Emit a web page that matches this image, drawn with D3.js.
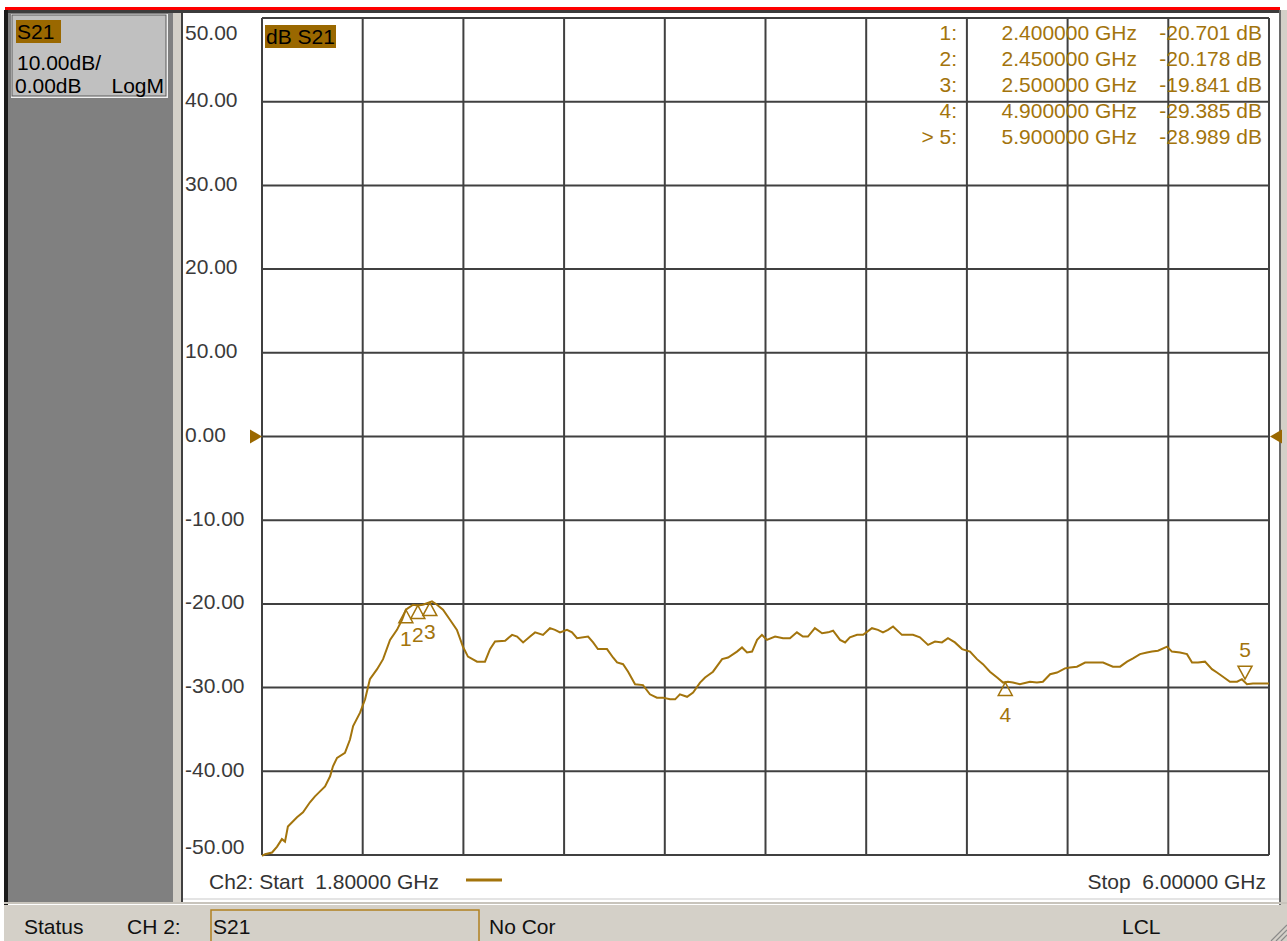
<!DOCTYPE html>
<html lang="en">
<head>
  <meta charset="UTF-8">
  <title>S21 LogM trace</title>
  <script src="https://d3js.org/d3.v7.min.js"></script>
  <style>
    body {
      margin: 0;
      background: #ffffff;
      font-family: "Liberation Sans", Arial, sans-serif;
    }
    svg text {
      font-size: 21px;
      white-space: pre;
    }
    .grid line {
      stroke: #404040;
      stroke-width: 2px;
    }
    .trace {
      fill: none;
      stroke: #a3740c;
      stroke-width: 2px;
    }
    .ylab {
      fill: #3a3a3a;
    }
    .mk {
      fill: #a3740c;
    }
    .status {
      fill: #111;
    }
  </style>
</head>
<body>
<svg width="1287" height="941"></svg>

<script>
// sweep (GHz) and S21 magnitude (dB)
const freqGHz = [
  1.800, 1.813, 1.842, 1.863, 1.883, 1.896, 1.908, 1.946, 1.971, 2.000,
  2.021, 2.042, 2.063, 2.084, 2.096, 2.113, 2.146, 2.167, 2.180, 2.209,
  2.230, 2.250, 2.280, 2.305, 2.334, 2.363, 2.384, 2.400, 2.430, 2.450,
  2.471, 2.500, 2.509, 2.530, 2.555, 2.584, 2.613, 2.638, 2.659, 2.697,
  2.730, 2.751, 2.772, 2.814, 2.843, 2.864, 2.889, 2.918, 2.939, 2.972,
  3.001, 3.022, 3.043, 3.072, 3.093, 3.114, 3.160, 3.181, 3.201, 3.239,
  3.264, 3.281, 3.306, 3.327, 3.356, 3.389, 3.418, 3.447, 3.472, 3.502,
  3.523, 3.543, 3.573, 3.598, 3.627, 3.648, 3.681, 3.719, 3.744, 3.781,
  3.802, 3.823, 3.844, 3.865, 3.885, 3.906, 3.940, 3.973, 4.002, 4.031,
  4.056, 4.077, 4.106, 4.136, 4.161, 4.182, 4.211, 4.232, 4.252, 4.282,
  4.307, 4.344, 4.369, 4.390, 4.411, 4.432, 4.469, 4.515, 4.544, 4.578,
  4.607, 4.636, 4.661, 4.690, 4.720, 4.753, 4.782, 4.807, 4.836, 4.866,
  4.891, 4.911, 4.932, 4.961, 5.003, 5.032, 5.057, 5.087, 5.116, 5.149,
  5.170, 5.199, 5.233, 5.266, 5.308, 5.349, 5.379, 5.408, 5.433, 5.462,
  5.491, 5.512, 5.537, 5.575, 5.595, 5.629, 5.658, 5.679, 5.704, 5.733,
  5.762, 5.783, 5.808, 5.837, 5.867, 5.887, 5.908, 5.933, 5.971, 6.000
];
const s21dB = [
  -50.1, -49.9, -49.7, -49.0, -48.1, -48.4, -46.6, -45.5, -44.9, -43.7,
  -43.0, -42.4, -41.8, -40.6, -39.4, -38.4, -37.8, -36.2, -34.6, -33.0,
  -31.4, -29.0, -27.8, -26.6, -24.3, -23.1, -21.9, -20.7, -20.1, -20.2,
  -20.1, -19.8, -19.7, -20.1, -20.7, -21.9, -23.1, -25.1, -26.3, -26.9,
  -26.9, -25.4, -24.5, -24.4, -23.7, -23.9, -24.6, -23.9, -23.4, -23.7,
  -22.9, -23.1, -23.4, -23.1, -23.4, -24.1, -23.9, -24.6, -25.4, -25.4,
  -26.4, -27.0, -27.2, -28.1, -29.6, -29.7, -30.8, -31.2, -31.2, -31.4,
  -31.4, -30.8, -31.1, -30.6, -29.4, -28.8, -28.1, -26.6, -26.4, -25.7,
  -25.2, -25.8, -25.7, -24.3, -23.7, -24.3, -23.9, -24.1, -24.1, -23.4,
  -23.9, -23.9, -22.9, -23.5, -23.4, -23.2, -24.3, -24.6, -24.0, -23.7,
  -23.7, -22.9, -23.1, -23.4, -23.1, -22.7, -23.7, -23.7, -24.0, -24.9,
  -24.5, -24.6, -24.1, -24.6, -25.4, -25.7, -26.6, -27.2, -28.1, -28.8,
  -29.4, -29.3, -29.4, -29.6, -29.3, -29.4, -29.3, -28.4, -28.2, -27.7,
  -27.6, -27.5, -27.0, -27.0, -27.0, -27.5, -27.5, -26.9, -26.5, -26.0,
  -25.8, -25.7, -25.6, -25.1, -25.7, -25.8, -26.0, -27.0, -27.0, -26.9,
  -27.8, -28.2, -28.7, -29.3, -29.3, -29.0, -29.6, -29.5, -29.5, -29.5
];

// marker table
const markerIds = ["1", "2", "3", "4", "5"];
const markerPrefix = ["1:", "2:", "3:", "4:", "> 5:"];
const markerFreqGHz = [2.4, 2.45, 2.5, 4.9, 5.9];
const markerDB = [-20.701, -20.178, -19.841, -29.385, -28.989];

const yTicks = [50, 40, 30, 20, 10, 0, -10, -20, -30, -40, -50];
const startGHz = 1.8, stopGHz = 6.0, xDivs = 10;

const gold = "#a3740c";
const svg = d3.select("svg");

// plain hyphen for negatives, like the analyzer screen
const loc = d3.formatLocale({ decimal: ".", thousands: ",", grouping: [3], currency: ["", ""], minus: "-" });
const f2 = loc.format(".2f"), f3 = loc.format(".3f"), f5 = loc.format(".5f"), f6 = loc.format(".6f");

// ---- instrument window chrome ----
svg.append("rect").attr("x", 0).attr("y", 0).attr("width", 1287).attr("height", 941).attr("fill", "#fff");
svg.append("rect").attr("x", 5).attr("y", 7).attr("width", 1275).attr("height", 3).attr("fill", "#ff0000");
svg.append("rect").attr("x", 4).attr("y", 10).attr("width", 1277).attr("height", 3).attr("fill", "#3c3c3c");
svg.append("rect").attr("x", 4).attr("y", 10).attr("width", 4).attr("height", 931).attr("fill", "#1a1a1a");
svg.append("rect").attr("x", 1279).attr("y", 10).attr("width", 2).attr("height", 895).attr("fill", "#6a6a6a");
svg.append("rect").attr("x", 1281).attr("y", 10).attr("width", 6).attr("height", 931).attr("fill", "#d4d0c8");

// left gray panel
svg.append("rect").attr("x", 8).attr("y", 13).attr("width", 165).attr("height", 890).attr("fill", "#808080");
svg.append("rect").attr("x", 173).attr("y", 13).attr("width", 8).attr("height", 890).attr("fill", "#d4d0c8");
svg.append("rect").attr("x", 181).attr("y", 13).attr("width", 2).attr("height", 890).attr("fill", "#404040");

// info box
svg.append("rect").attr("x", 11).attr("y", 14).attr("width", 157).attr("height", 84).attr("fill", "#f0f0f0");
svg.append("rect").attr("x", 12).attr("y", 15).attr("width", 154).attr("height", 81).attr("fill", "#c0c0c0")
  .attr("stroke", "#5a5a5a").attr("stroke-width", 1);
svg.append("rect").attr("x", 16).attr("y", 20).attr("width", 45).attr("height", 23).attr("fill", "#9a6800");
svg.append("text").attr("x", 17).attr("y", 39).attr("fill", "#000").text("S21");
svg.append("text").attr("x", 17).attr("y", 70).attr("fill", "#000").text("10.00dB/");
svg.append("text").attr("x", 15).attr("y", 93).attr("fill", "#000").text("0.00dB");
svg.append("text").attr("x", 164).attr("y", 93).attr("fill", "#000").attr("text-anchor", "end").text("LogM");

// ---- plot ----
const x = d3.scaleLinear().domain([startGHz, stopGHz]).range([262, 1269]);
const y = d3.scaleLinear().domain([-50, 50]).range([855, 18]);

const xGrid = d3.range(xDivs + 1).map(i => startGHz + i * (stopGHz - startGHz) / xDivs);

const grid = svg.append("g").attr("class", "grid");
grid.selectAll(".v").data(xGrid).enter().append("line")
  .attr("x1", d => x(d)).attr("x2", d => x(d))
  .attr("y1", y(50)).attr("y2", y(-50));
grid.selectAll(".h").data(yTicks).enter().append("line")
  .attr("x1", x(startGHz)).attr("x2", x(stopGHz))
  .attr("y1", d => y(d)).attr("y2", d => y(d));

// y labels, the end ones pushed inside
svg.selectAll(".ylab").data(yTicks).enter().append("text")
  .attr("class", "ylab")
  .attr("x", 185)
  .attr("y", d => y(d) + (d === 50 ? 15 : d === -50 ? -8 : -2))
  .attr("dy", "0.35em")
  .text(d => f2(d));

// reference level arrows
const ref = y(0);
svg.append("path").attr("d", `M250,${ref - 7}L262,${ref}L250,${ref + 7}Z`).attr("fill", "#9a6800");
svg.append("path").attr("d", `M1282,${ref - 7}L1270,${ref}L1282,${ref + 7}Z`).attr("fill", "#9a6800");

// trace title
svg.append("rect").attr("x", 265).attr("y", 25).attr("width", 71).attr("height", 23).attr("fill", "#9a6800");
svg.append("text").attr("x", 266).attr("y", 44).attr("fill", "#000").text("dB S21");

// marker readout
const rowY = i => 33 + i * 25.8;
const table = svg.append("g");
table.selectAll(".p").data(markerPrefix).enter().append("text")
  .attr("class", "mk").attr("text-anchor", "end")
  .attr("x", 957).attr("y", (d, i) => rowY(i)).attr("dy", "0.35em").text(d => d);
table.selectAll(".f").data(markerFreqGHz).enter().append("text")
  .attr("class", "mk").attr("text-anchor", "end")
  .attr("x", 1137).attr("y", (d, i) => rowY(i)).attr("dy", "0.35em")
  .text(d => f6(d) + " GHz");
table.selectAll(".v").data(markerDB).enter().append("text")
  .attr("class", "mk").attr("text-anchor", "end")
  .attr("x", 1262).attr("y", (d, i) => rowY(i)).attr("dy", "0.35em")
  .text(d => f3(d) + " dB");

// trace
const pts = freqGHz.map((f, i) => [f, s21dB[i]]);
const line = d3.line().x(d => x(d[0])).y(d => y(d[1]));
svg.append("path").attr("class", "trace").attr("d", line(pts));

// marker triangles (5 is the active one, drawn upside down)
markerIds.forEach((id, i) => {
  const mx = x(markerFreqGHz[i]), my = y(markerDB[i]);
  const up = id !== "5";
  const s = up ? 1 : -1;
  svg.append("path")
    .attr("d", `M${mx},${my}L${mx - 7},${my + s * 13}L${mx + 7},${my + s * 13}Z`)
    .attr("fill", "none").attr("stroke", gold).attr("stroke-width", 1.5);
  svg.append("text")
    .attr("class", "mk").attr("text-anchor", "middle")
    .attr("x", mx).attr("y", my + (up ? (id === "4" ? 32 : 29) : -29))
    .attr("dy", "0.35em").text(id);
});

// start/stop annotation
svg.append("text").attr("x", 209).attr("y", 882).attr("dy", "0.35em").attr("fill", "#333")
  .text(`Ch2: Start  ${f5(startGHz)} GHz`);
svg.append("line").attr("x1", 466).attr("x2", 502).attr("y1", 880).attr("y2", 880)
  .attr("stroke", gold).attr("stroke-width", 3);
svg.append("text").attr("x", 1266).attr("y", 882).attr("dy", "0.35em").attr("fill", "#333")
  .attr("text-anchor", "end").text(`Stop  ${f5(stopGHz)} GHz`);

// ---- status bar ----
svg.append("rect").attr("x", 183).attr("y", 898).attr("width", 1096).attr("height", 2).attr("fill", "#e4e4e4");
svg.append("rect").attr("x", 4).attr("y", 902).attr("width", 1283).attr("height", 2).attr("fill", "#c8c4bc");
svg.append("rect").attr("x", 4).attr("y", 905).attr("width", 1283).attr("height", 36).attr("fill", "#d4d0c8");
svg.append("rect").attr("x", 211).attr("y", 910).attr("width", 268).attr("height", 32)
  .attr("fill", "none").attr("stroke", "#b08020").attr("stroke-width", 1.5);
svg.append("text").attr("class", "status").attr("x", 24).attr("y", 927).attr("dy", "0.35em").text("Status");
svg.append("text").attr("class", "status").attr("x", 127).attr("y", 927).attr("dy", "0.35em").text("CH 2:");
svg.append("text").attr("class", "status").attr("x", 213).attr("y", 927).attr("dy", "0.35em").text("S21");
svg.append("text").attr("class", "status").attr("x", 489).attr("y", 927).attr("dy", "0.35em").text("No Cor");
svg.append("text").attr("class", "status").attr("x", 1122).attr("y", 927).attr("dy", "0.35em").text("LCL");

// resize grip
[6, 11, 16].forEach(o => {
  svg.append("line").attr("x1", 1287 - o).attr("y1", 941).attr("x2", 1287).attr("y2", 941 - o)
    .attr("stroke", "#8a8a8a").attr("stroke-width", 1.2);
});
</script>
</body>
</html>
